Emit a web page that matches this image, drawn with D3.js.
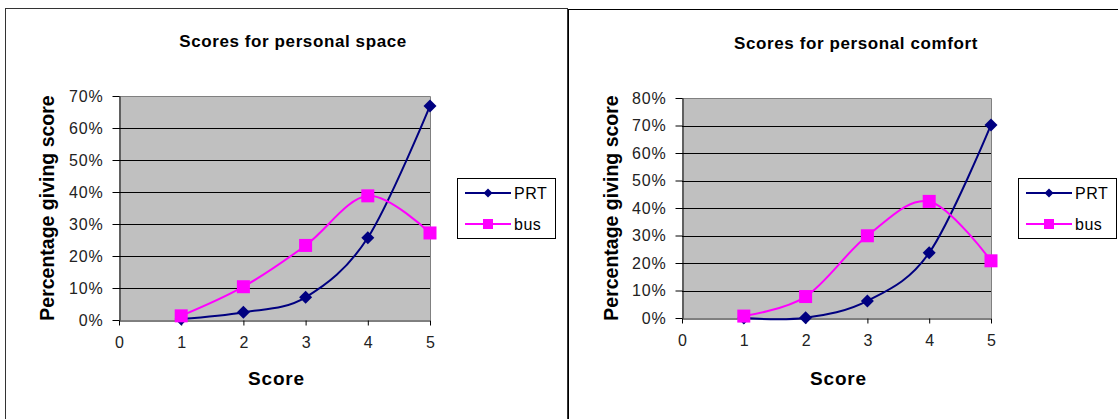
<!DOCTYPE html>
<html>
<head>
<meta charset="utf-8">
<script src="https://cdn.jsdelivr.net/npm/d3@7"></script>
<style>
  html, body { margin: 0; padding: 0; background: #fff; }
  svg { display: block; font-family: Arial, "Liberation Sans", sans-serif; }
</style>
</head>
<body>
<svg id="chart" width="1118" height="419"></svg>
<script>
// Score categories on the x axis
const scores = [1, 2, 3, 4, 5];
const xTickValues = [0, 1, 2, 3, 4, 5];
const seriesNames = ["PRT", "bus"];

// Percentage of respondents giving each score — personal space
const spacePRT = [0.3, 2.4, 7.1, 25.7, 66.9];
const spaceBus = [1.3, 10.4, 23.3, 38.8, 27.2];
const spaceYTicks = [0, 10, 20, 30, 40, 50, 60, 70];

// Percentage of respondents giving each score — personal comfort
const comfortPRT = [0, 0.1, 6.2, 23.7, 70.2];
const comfortBus = [0.7, 7.8, 29.9, 42.4, 20.8];
const comfortYTicks = [0, 10, 20, 30, 40, 50, 60, 70, 80];

const seriesColors = { PRT: "#000080", bus: "#FF00FF" };

const svg = d3.select("#chart");

function drawPanel(opts) {
  const g = svg.append("g");

  // Outer chart frame
  g.append("rect")
    .attr("x", opts.frame.x + 0.5).attr("y", opts.frame.y + 0.5)
    .attr("width", opts.frame.w).attr("height", opts.frame.h)
    .attr("fill", "none").attr("stroke", opts.frame.stroke).attr("stroke-width", 1);

  const x = d3.scaleLinear().domain([0, 5]).range([opts.plot.left, opts.plot.right]);
  const yMax = opts.yTicks[opts.yTicks.length - 1];
  const y = d3.scaleLinear().domain([0, yMax]).range([opts.plot.bottom, opts.plot.top]);

  // Plot area background
  g.append("rect")
    .attr("x", x(0)).attr("y", y(yMax))
    .attr("width", x(5) - x(0)).attr("height", y(0) - y(yMax))
    .attr("fill", "#C0C0C0");

  // Horizontal gridlines
  g.append("g").selectAll("line")
    .data(opts.yTicks.filter(t => t > 0 && t < yMax))
    .join("line")
    .attr("x1", x(0)).attr("x2", x(5))
    .attr("y1", d => Math.round(y(d)) + 0.5).attr("y2", d => Math.round(y(d)) + 0.5)
    .attr("stroke", "#000").attr("stroke-width", 1);

  // Top and right edges of the plot area
  g.append("path")
    .attr("d", `M${x(0)},${Math.round(y(yMax)) + 0.5}H${Math.round(x(5)) + 0.5}V${y(0)}`)
    .attr("fill", "none").attr("stroke", "#808080").attr("stroke-width", 1);

  // Y axis
  const yAxis = g.append("g")
    .attr("transform", `translate(${Math.round(x(0)) + 0.5},0)`)
    .call(d3.axisLeft(y).tickValues(opts.yTicks).tickFormat(d => d + "%")
      .tickSize(7).tickSizeOuter(0).tickPadding(9));
  yAxis.select(".domain").attr("stroke", "#000");
  yAxis.selectAll(".tick line").attr("stroke", "#000");
  yAxis.selectAll(".tick text")
    .attr("font-size", 16).attr("fill", "#222")
    .attr("letter-spacing", 0.8)
    .attr("font-family", "Arial, 'Liberation Sans', sans-serif");

  // X axis
  const xAxis = g.append("g")
    .attr("transform", `translate(0,${Math.round(y(0)) + 0.5})`)
    .call(d3.axisBottom(x).tickValues(xTickValues).tickFormat(d3.format("d"))
      .tickSize(5).tickSizeOuter(0).tickPadding(11));
  xAxis.select(".domain").attr("stroke", "#000");
  xAxis.selectAll(".tick line").attr("stroke", "#000");
  xAxis.selectAll(".tick text")
    .attr("font-size", 16).attr("fill", "#222")
    .attr("font-family", "Arial, 'Liberation Sans', sans-serif");

  // Smoothed series lines and markers
  const line = d3.line()
    .x((d, i) => x(scores[i]))
    .y(d => y(d))
    .curve(d3.curveCardinal.tension(0));

  opts.series.forEach(s => {
    g.append("path")
      .datum(s.values)
      .attr("d", line)
      .attr("fill", "none")
      .attr("stroke", seriesColors[s.name])
      .attr("stroke-width", 2);
    drawMarkers(g, s.name, s.values.map((v, i) => [x(scores[i]), y(v)]), false);
  });

  // Titles
  g.append("text")
    .attr("x", opts.title.x).attr("y", opts.title.y)
    .attr("text-anchor", "middle")
    .attr("font-size", 17).attr("font-weight", "bold")
    .attr("letter-spacing", 0.6)
    .text(opts.title.text);

  g.append("text")
    .attr("x", (x(0) + x(5)) / 2 + 2).attr("y", 385)
    .attr("text-anchor", "middle")
    .attr("font-size", 19).attr("font-weight", "bold")
    .attr("letter-spacing", 0.8)
    .text("Score");

  g.append("text")
    .attr("transform", `translate(${opts.yTitleX},${(y(0) + y(yMax)) / 2}) rotate(-90)`)
    .attr("text-anchor", "middle")
    .attr("font-size", 19.5).attr("font-weight", "bold")
    .text("Percentage giving score");

  // Legend
  const lx = x(5) + 27, ly = 178;
  const legend = g.append("g");
  legend.append("rect")
    .attr("x", Math.round(lx) + 0.5).attr("y", ly + 0.5)
    .attr("width", 98).attr("height", 60)
    .attr("fill", "#fff").attr("stroke", "#000").attr("stroke-width", 1);
  seriesNames.forEach((name, i) => {
    const cy = ly + 15 + i * 31;
    legend.append("line")
      .attr("x1", lx + 8).attr("x2", lx + 54)
      .attr("y1", cy).attr("y2", cy)
      .attr("stroke", seriesColors[name]).attr("stroke-width", 2);
    drawMarkers(legend, name, [[lx + 31, cy]], true);
    legend.append("text")
      .attr("x", lx + 57).attr("y", cy + 6)
      .attr("font-size", 16).attr("fill", "#000")
      .attr("letter-spacing", 0.5)
      .text(name);
  });
}

function drawMarkers(g, name, pts, small) {
  if (name === "PRT") {
    const r = small ? 4.5 : 6.5;
    g.append("g").selectAll("path")
      .data(pts).join("path")
      .attr("d", d => `M${d[0]},${d[1] - r}L${d[0] + r},${d[1]}L${d[0]},${d[1] + r}L${d[0] - r},${d[1]}Z`)
      .attr("fill", seriesColors[name]);
  } else {
    const s = small ? 10 : 13;
    g.append("g").selectAll("rect")
      .data(pts).join("rect")
      .attr("x", d => d[0] - s / 2).attr("y", d => d[1] - s / 2)
      .attr("width", s).attr("height", s)
      .attr("fill", seriesColors[name]);
  }
}

drawPanel({
  frame: { x: 5, y: 8, w: 562, h: 430, stroke: "#333" },
  plot: { left: 119, right: 430, top: 96, bottom: 320 },
  yTicks: spaceYTicks,
  series: [{ name: "PRT", values: spacePRT }, { name: "bus", values: spaceBus }],
  title: { text: "Scores for personal space", x: 293, y: 47 },
  yTitleX: 54
});

drawPanel({
  frame: { x: 568, y: 9, w: 600, h: 430, stroke: "#000" },
  plot: { left: 682, right: 991, top: 98, bottom: 318 },
  yTicks: comfortYTicks,
  series: [{ name: "PRT", values: comfortPRT }, { name: "bus", values: comfortBus }],
  title: { text: "Scores for personal comfort", x: 856, y: 49 },
  yTitleX: 618
});
</script>
</body>
</html>
